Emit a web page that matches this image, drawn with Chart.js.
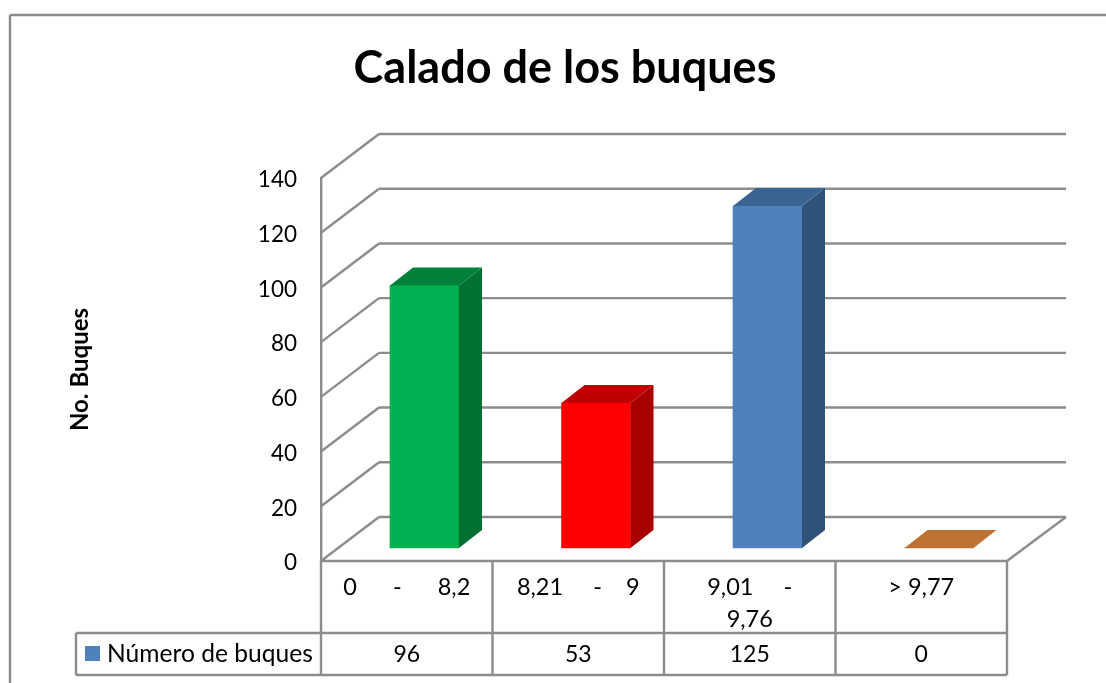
<!DOCTYPE html>
<html>
<head>
<meta charset="utf-8">
<title>Calado de los buques</title>
<script src="https://cdn.jsdelivr.net/npm/chart.js@4"></script>
<style>
    body { margin: 0; background: #ffffff; }
    canvas { display: block; }
</style>
</head>
<body>
<canvas id="caladoChart" width="1106" height="683"></canvas>
<script>
const categories = ["0      -      8,2", "8,21     -    9", ["9,01     -", "9,76"], "> 9,77"];
const buques = [96, 53, 125, 0];
const seriesName = "Número de buques";
const yTicks = [0, 20, 40, 60, 80, 100, 120, 140];

const frontColors = ["#00b050", "#ff0000", "#4f81bd", "#bd7232"];
const topColors = ["#008038", "#c00000", "#3a6491", "#bd7232"];
const sideColors = ["#007033", "#a80000", "#2f5278", "#bd7232"];

const lineColor = "#8c8c8c";
const fontName = "Lato, Carlito, sans-serif";

// depth of the fake 3d box
const wallDx = 58, wallDy = 44;
const barDx = 23, barDy = 18;

function line(ctx, x1, y1, x2, y2) {
    ctx.beginPath();
    ctx.moveTo(x1, y1);
    ctx.lineTo(x2, y2);
    ctx.stroke();
}

function face(ctx, color, pts) {
    ctx.fillStyle = color;
    ctx.beginPath();
    pts.forEach((p, i) => i ? ctx.lineTo(p[0], p[1]) : ctx.moveTo(p[0], p[1]));
    ctx.closePath();
    ctx.fill();
}

const box3d = {
    id: "box3d",
    afterLayout(chart) {
        // title is centred a bit to the right of the plot
        chart.titleBlock.left = 24;
        chart.titleBlock.right = 1106;
    },
    beforeDatasetsDraw(chart) {
        const ctx = chart.ctx;
        const y = chart.scales.y;
        const area = chart.chartArea;
        ctx.save();
        ctx.strokeStyle = lineColor;
        ctx.lineWidth = 2.4;

        // outer frame, only top and left are in the picture
        line(ctx, 10, 15, 1106, 15);
        line(ctx, 10, 15, 10, 683);

        // walls
        yTicks.forEach(v => {
            const py = y.getPixelForValue(v);
            line(ctx, area.left, py, area.left + wallDx, py - wallDy);
            line(ctx, area.left + wallDx, py - wallDy, area.left + wallDx + 687, py - wallDy);
        });

        // floor
        const floor = y.getPixelForValue(0);
        line(ctx, area.right, floor, area.right + wallDx + 1, floor - wallDy);

        // table under the plot
        const rowTop = 633, rowBottom = 675, legendLeft = 76;
        const edges = [area.left];
        categories.forEach((c, i) => edges.push(area.left + (area.right - area.left) * (i + 1) / categories.length));
        edges.forEach(px => line(ctx, px, floor, px, rowBottom));
        line(ctx, area.left, floor, area.right, floor);
        line(ctx, legendLeft, rowTop, area.right, rowTop);
        line(ctx, legendLeft, rowBottom, area.right, rowBottom);
        line(ctx, legendLeft, rowTop, legendLeft, rowBottom);

        ctx.fillStyle = "#000000";
        ctx.font = "23px " + fontName;
        ctx.textAlign = "center";
        ctx.textBaseline = "middle";
        buques.forEach((v, i) => ctx.fillText(String(v), chart.scales.x.getPixelForValue(i), 655));
        ctx.textAlign = "left";
        ctx.font = "24.6px " + fontName;
        ctx.fillText(seriesName, 107, 654);
        ctx.fillStyle = frontColors[2];
        ctx.fillRect(85, 646, 15, 15);
        ctx.restore();
    },
    afterDatasetsDraw(chart) {
        const ctx = chart.ctx;
        chart.getDatasetMeta(0).data.forEach((bar, i) => {
            const left = bar.x - bar.width / 2;
            const right = bar.x + bar.width / 2;
            face(ctx, sideColors[i], [[right, bar.y], [right + barDx, bar.y - barDy], [right + barDx, bar.base - barDy], [right, bar.base]]);
            face(ctx, topColors[i], [[left, bar.y], [left + barDx, bar.y - barDy], [right + barDx, bar.y - barDy], [right, bar.y]]);
        });
    }
};

new Chart(
    document.getElementById("caladoChart"),
    {
        type: "bar",
        data: {
            labels: categories,
            datasets: [
                {
                    label: seriesName,
                    data: buques.map((v, i) => ({ x: i, y: v })),
                    backgroundColor: frontColors,
                    borderWidth: 0,
                    barThickness: 69,
                    xAxisID: "xBars",
                    yAxisID: "yBars",
                    clip: false
                }
            ]
        },
        options: {
            responsive: false,
            animation: false,
            layout: {
                padding: { left: 0, right: 99, top: 0, bottom: 0 }
            },
            plugins: {
                legend: { display: false },
                tooltip: { enabled: false },
                title: {
                    display: true,
                    text: "Calado de los buques",
                    color: "#000000",
                    font: { family: fontName, size: 45, weight: "bold", lineHeight: 1.2 },
                    padding: { top: 41, bottom: 83 }
                }
            },
            scales: {
                x: {
                    type: "category",
                    offset: true,
                    afterFit(scale) { scale.height = 122; },
                    border: { display: false },
                    grid: { display: false },
                    ticks: {
                        color: "#000000",
                        font: { family: fontName, size: 23.5, lineHeight: 1.36 },
                        padding: 2,
                        maxRotation: 0,
                        autoSkip: false
                    }
                },
                y: {
                    min: 0,
                    max: 140,
                    afterFit(scale) { scale.width = 321; },
                    border: { color: lineColor, width: 2.4 },
                    grid: { drawOnChartArea: false, drawTicks: false },
                    ticks: {
                        stepSize: 20,
                        color: "#000000",
                        font: { family: fontName, size: 22.5 },
                        padding: 24,
                        labelOffset: 2
                    },
                    title: {
                        display: true,
                        text: "No. Buques",
                        color: "#000000",
                        font: { family: fontName, size: 24, weight: "bold" },
                        padding: { top: 66, bottom: 0 }
                    }
                },
                // bars stand inside the floor, so they get their own shifted axes
                xBars: {
                    type: "linear",
                    axis: "x",
                    display: false,
                    offset: false,
                    min: -0.6035,
                    max: 3.3965
                },
                yBars: {
                    type: "linear",
                    axis: "y",
                    display: false,
                    min: -4.75,
                    max: 135.25
                }
            }
        },
        plugins: [box3d]
    }
);
</script>
</body>
</html>
